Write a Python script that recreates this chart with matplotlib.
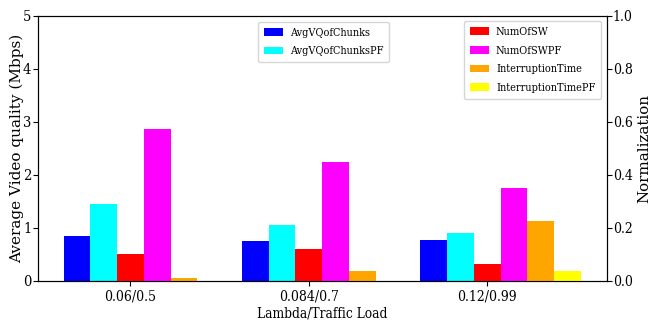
import matplotlib
matplotlib.use("Agg")
import matplotlib.pyplot as plt
from matplotlib.font_manager import FontProperties
import numpy as np

plt.rcParams['font.family'] = ['DejaVu Serif']

categories = ["0.06/0.5", "0.084/0.7", "0.12/0.99"]
avg_vq = [0.85, 0.755, 0.775]
avg_vq_pf = [1.45, 1.057, 0.905]
num_sw = [0.102, 0.121, 0.064]
num_sw_pf = [0.574, 0.449, 0.351]
interruption = [0.010, 0.038, 0.226]
interruption_pf = [0.0, 0.0, 0.038]

x = np.arange(len(categories))
w = 0.15

cond = dict(family='DejaVu Serif', stretch='condensed')

fig = plt.figure(figsize=(6.52, 3.2), dpi=100)
ax = fig.add_axes([0.0578, 0.1228, 0.8727, 0.8282])
ax2 = ax.twinx()

b1 = ax.bar(x - 2 * w, avg_vq, w, color='blue', label='AvgVQofChunks')
b2 = ax.bar(x - w, avg_vq_pf, w, color='cyan', label='AvgVQofChunksPF')
b3 = ax2.bar(x, num_sw, w, color='red', label='NumOfSW')
b4 = ax2.bar(x + w, num_sw_pf, w, color='magenta', label='NumOfSWPF')
b5 = ax2.bar(x + 2 * w, interruption, w, color='orange', label='InterruptionTime')
b6 = ax2.bar(x + 3 * w, interruption_pf, w, color='yellow', label='InterruptionTimePF')

ax.set_xlim(-0.52, 2.67)
ax.set_ylim(0, 5)
ax2.set_ylim(0, 1.0)
ax.set_xticks(x)
ax.set_xticklabels(categories, fontsize=10, **cond)
ax.set_yticks([0, 1, 2, 3, 4, 5])
ax.set_yticklabels(['0', '1', '2', '3', '4', '5'], fontsize=10.5, **cond)
ax.tick_params(axis='y', length=3.5, pad=1)
ax.tick_params(axis='x', length=3.5, pad=3)
ax2.set_yticks([0, 0.2, 0.4, 0.6, 0.8, 1.0])
ax2.set_yticklabels(['0.0', '0.2', '0.4', '0.6', '0.8', '1.0'], fontsize=10, **cond)
ax2.tick_params(axis='y', length=3.5, pad=1)
ax.set_ylabel('Average Video quality (Mbps)', fontsize=11, labelpad=-1)
ax2.set_ylabel('Normalization', fontsize=10.8, labelpad=3)
ax.set_xlabel('Lambda/Traffic Load', fontsize=9.8, labelpad=2, **cond)

legprop = FontProperties(family='DejaVu Serif', stretch='condensed', size=7.8)
legkw = dict(prop=legprop, labelspacing=0.8, borderpad=0.55,
             handlelength=1.75, handletextpad=0.65)
ax.legend(handles=[b1, b2], loc='upper center',
          bbox_to_anchor=(0.502, 1.0), borderaxespad=0.55, **legkw)
ax2.legend(handles=[b3, b4, b5, b6], loc='upper right',
           bbox_to_anchor=(1.0, 1.0), borderaxespad=0.5, **legkw)

fig.savefig('out.png', dpi=100)
